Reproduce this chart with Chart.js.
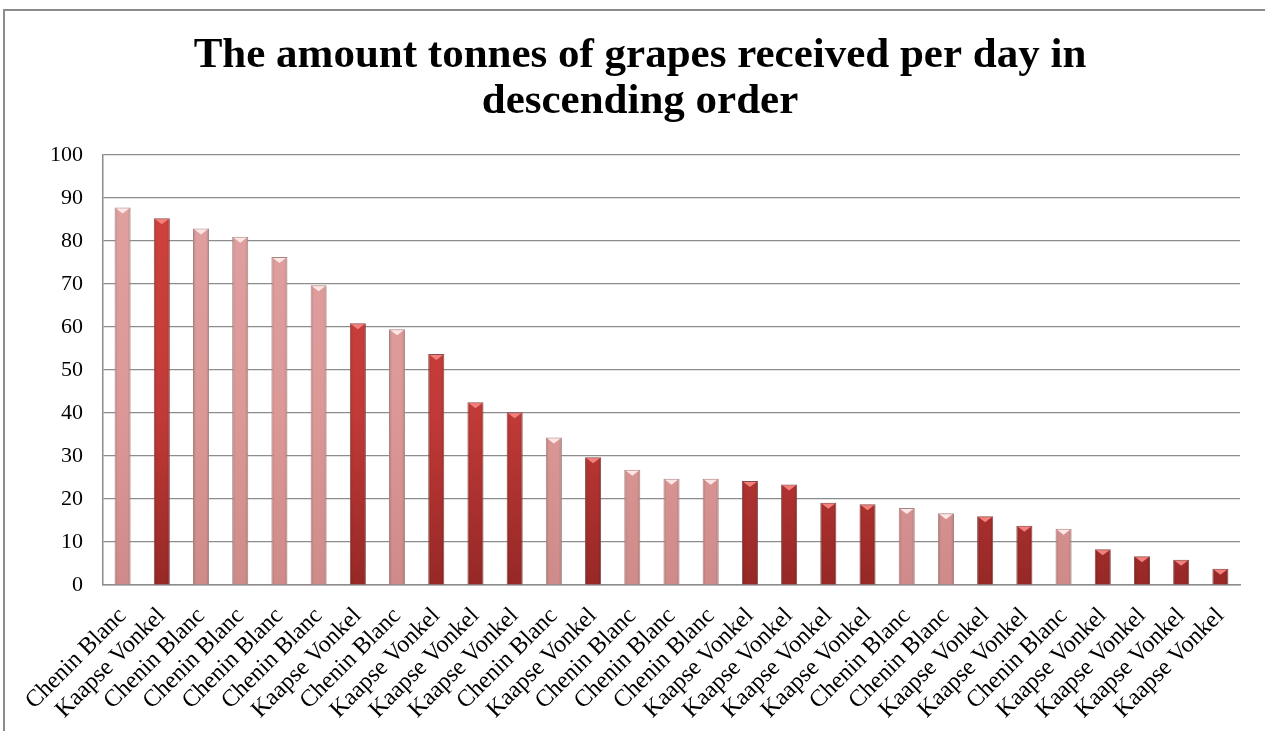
<!DOCTYPE html>
<html>
<head>
<meta charset="utf-8">
<script src="https://cdn.jsdelivr.net/npm/chart.js@4/dist/chart.umd.min.js"></script>
<style>
  html, body { margin: 0; padding: 0; background: #fff; overflow: hidden; }
  #wrap { position: relative; width: 1265px; height: 731px; }
  #frame {
    position: absolute; left: 3px; top: 9px; width: 1300px; height: 800px;
    border-left: 2px solid #8c8c8c; border-top: 2px solid #8c8c8c;
  }
  canvas { position: absolute; left: 0; top: 0; }
</style>
</head>
<body>
<div id="wrap">
  <div id="frame"></div>
  <canvas id="chart" width="1265" height="731"></canvas>
</div>
<script>
const CB = "Chenin Blanc";
const KV = "Kaapse Vonkel";

const varieties = [
  CB, KV, CB, CB, CB, CB, KV, CB, KV, KV,
  KV, CB, KV, CB, CB, CB, KV, KV, KV, KV,
  CB, CB, KV, KV, CB, KV, KV, KV, KV
];

const tonnes = [
  87.8, 85.3, 82.9, 81.0, 76.3, 69.7, 60.9, 59.5, 53.7, 42.5,
  40.2, 34.3, 29.7, 26.8, 24.7, 24.7, 24.2, 23.4, 19.1, 18.8,
  17.9, 16.7, 16.0, 13.8, 13.1, 8.3, 6.7, 5.9, 3.8
];

const yTicks = [0, 10, 20, 30, 40, 50, 60, 70, 80, 90, 100];

const palette = {
  [CB]: { top: "#e0a2a1", mid: "#db9897", bottom: "#cf8b8a", edge: "#a98382", bevel: "#fce6e6" },
  [KV]: { top: "#d3433f", mid: "#c13a37", bottom: "#962826", edge: "#8a4a48", bevel: "#f2817d" }
};

const serif = "'Liberation Serif', 'Times New Roman', serif";

function barFill(context) {
  const chart = context.chart;
  const area = chart.chartArea;
  const p = palette[varieties[context.dataIndex]];
  if (!area) return p.top;
  const g = chart.ctx.createLinearGradient(0, area.top, 0, area.bottom);
  g.addColorStop(0, p.top);
  g.addColorStop(0.6, p.mid);
  g.addColorStop(1, p.bottom);
  return g;
}

// side shading and a small bevel highlight on top of each bar
const bevelPlugin = {
  id: "bevel",
  afterDatasetsDraw(chart) {
    const ctx = chart.ctx;
    const meta = chart.getDatasetMeta(0);
    ctx.save();
    meta.data.forEach((bar, i) => {
      const p = palette[varieties[i]];
      const w = bar.width;
      const left = bar.x - w / 2;
      const right = bar.x + w / 2;
      const sg = ctx.createLinearGradient(left, 0, right, 0);
      sg.addColorStop(0, "rgba(0,0,0,0.16)");
      sg.addColorStop(0.2, "rgba(0,0,0,0)");
      sg.addColorStop(0.8, "rgba(0,0,0,0)");
      sg.addColorStop(1, "rgba(0,0,0,0.16)");
      ctx.fillStyle = sg;
      ctx.fillRect(left + 1, bar.y + 1, w - 2, bar.base - bar.y - 1);
      ctx.fillStyle = p.bevel;
      ctx.beginPath();
      ctx.moveTo(left + 1.5, bar.y + 1);
      ctx.lineTo(right - 1.5, bar.y + 1);
      ctx.lineTo(bar.x, bar.y + Math.min(6, w * 0.38));
      ctx.closePath();
      ctx.fill();
    });
    ctx.restore();
  }
};

new Chart(document.getElementById("chart"), {
  type: "bar",
  data: {
    labels: varieties,
    datasets: [{
      data: tonnes,
      backgroundColor: barFill,
      borderColor: (c) => palette[varieties[c.dataIndex]].edge,
      borderWidth: 1,
      borderSkipped: "bottom",
      categoryPercentage: 1,
      barPercentage: 0.41
    }]
  },
  options: {
    responsive: false,
    animation: false,
    events: [],
    layout: { padding: { left: 40, right: 25, top: 0, bottom: 0 } },
    plugins: {
      legend: { display: false },
      tooltip: { enabled: false },
      title: {
        display: true,
        text: ["The amount tonnes of grapes received per day in", "descending order"],
        color: "#000",
        font: { family: serif, size: 43, weight: "bold", lineHeight: 1.07 },
        padding: { top: 33, bottom: 30 }
      }
    },
    scales: {
      x: {
        grid: { display: false, drawTicks: false },
        border: { display: true, color: "#8c8c8c", width: 1.5 },
        ticks: {
          color: "#000",
          autoSkip: false,
          minRotation: 45,
          maxRotation: 45,
          padding: 17,
          font: { family: serif, size: 24 }
        },
        afterFit(scale) { scale.height = 146; }
      },
      y: {
        min: 0,
        max: 100,
        afterBuildTicks(scale) { scale.ticks = yTicks.map((v) => ({ value: v })); },
        grid: { color: "#8c8c8c", lineWidth: 1.2, drawTicks: false },
        border: { display: true, color: "#8c8c8c", width: 1.5 },
        ticks: {
          color: "#000",
          padding: 20,
          font: { family: serif, size: 22 }
        },
        afterFit(scale) { scale.width = 63; }
      }
    }
  },
  plugins: [bevelPlugin]
});
</script>
</body>
</html>
